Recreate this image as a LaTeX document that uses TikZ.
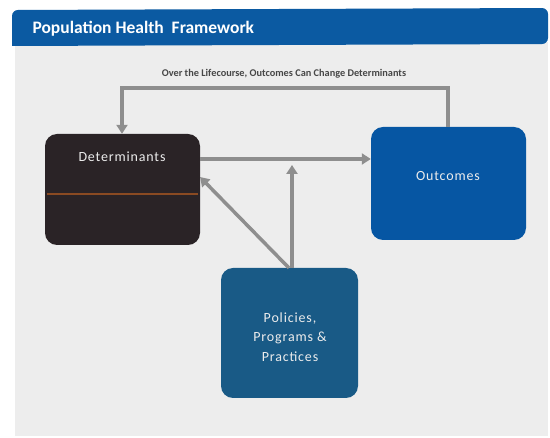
\documentclass[tikz,border=0pt]{standalone}
\usepackage{fontspec}
\setmainfont{Carlito}
\newfontfamily\boxfont[LetterSpace=6]{Carlito}
\usetikzlibrary{arrows.meta}
\definecolor{titleblue}{HTML}{0B5AA2}
\definecolor{slidegray}{HTML}{EDEDED}
\definecolor{detcol}{HTML}{2A2326}
\definecolor{outcol}{HTML}{0656A3}
\definecolor{polcol}{HTML}{195A86}
\definecolor{arrgray}{HTML}{8E8E8E}
\definecolor{orangeline}{HTML}{8A4A22}
\tikzset{
  box/.style={rounded corners=12pt, inner sep=0pt},
  boxtext/.style={text=white!85!gray, font=\boxfont\fontsize{14}{19.5}\selectfont, align=center},
  conn/.style={draw=arrgray, line width=3.5pt, -{Triangle[length=9pt,width=11pt]}},
}
\begin{document}
\begin{tikzpicture}[x=1pt,y=-1pt]
\useasboundingbox (0,0) rectangle (550,438);
\fill[white] (0,0) rectangle (550,438);
\fill[slidegray] (15,42) rectangle (548,436);
\fill[titleblue, rounded corners=6pt] (12,46) -- (12,10) -- (548,8) -- (548,44) [sharp corners] -- cycle;
\node[anchor=west, text=white, font=\fontsize{17.5}{19}\bfseries\selectfont] (title) at (29,29) {Population Health\ \ Framework};
% boxes
\node[box, fill=detcol, minimum width=155pt, minimum height=111pt] (det) at (122.5,189.5) {};
\draw[orangeline, line width=1.2pt] (47,194) -- (198,194);
\node[boxtext] (dettext) at (122,157) {Determinants};
\node[box, fill=outcol, minimum width=155pt, minimum height=113pt] (out) at (448.5,183.5) {};
\node[boxtext] (outtext) at (448,176) {Outcomes};
\node[box, fill=polcol, minimum width=137pt, minimum height=130pt] (pol) at (289.5,333) {};
\node[boxtext] (poltext) at (290,337) {Policies,\\Programs \&\\Practices};
% label
\node[text=black!72, font=\fontsize{10.3}{11}\bfseries\selectfont] (lbl) at (284,74) {Over the Lifecourse, Outcomes Can Change Determinants};
% connectors
\coordinate (fbR) at (448,88);
\coordinate (fbL) at (122,88);
\draw[conn] (out.north -| fbR) -- (fbR) -- (fbL) -- (det.north -| fbL);
\draw[conn] (det.east |- 0,159) -- (out.west |- 0,159);
\coordinate (vtip) at (292,165);
\draw[conn] (pol.north -| vtip) -- (vtip);
\coordinate (dtip) at (200,177);
\draw[conn] (289,268) -- (dtip);
\end{tikzpicture}
\end{document}
